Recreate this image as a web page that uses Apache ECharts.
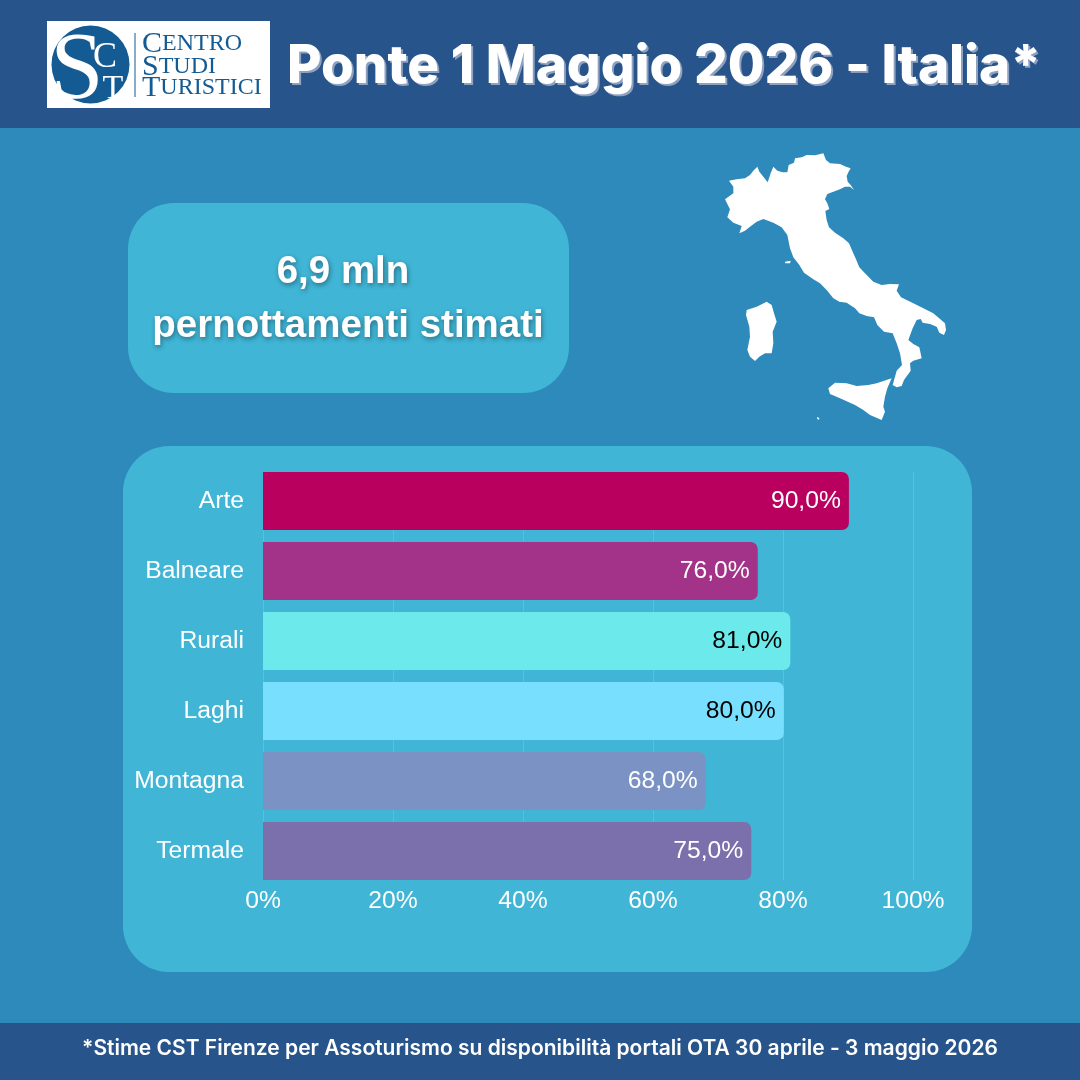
<!DOCTYPE html>
<html>
<head>
<meta charset="utf-8">
<title>Ponte 1 Maggio 2026 - Italia</title>
<style>
  html, body { margin: 0; padding: 0; background: #2d8abb; }
  #main { width: 1080px; height: 1080px; }
</style>
<script src="https://cdn.jsdelivr.net/npm/echarts@6/dist/echarts.min.js"></script>
</head>
<body>
<div id="main"></div>
<script>
// dati
const categories = ['Arte', 'Balneare', 'Rurali', 'Laghi', 'Montagna', 'Termale'];
const values = [90, 76, 81, 80, 68, 75];
const xTicks = [0, 20, 40, 60, 80, 100];

// colori per barra
const barColors = ['#ba005e', '#a33389', '#6ce9ea', '#78dfff', '#7b93c4', '#7b70ac'];
const labelColors = ['#fff', '#fff', '#000', '#000', '#fff', '#fff'];

const titleText = 'Ponte 1 Maggio 2026 - Italia*';
const footerText = '*Stime CST Firenze per Assoturismo su disponibilità portali OTA 30 aprile - 3 maggio 2026';

// sagoma dell'Italia (solo decorazione), in px del ritaglio 3x
const mainland = [[87,122],[110,118],[135,115],[150,105],[160,92],[172,80],[178,95],[190,110],[203,127],[212,100],[220,80],[232,92],[248,97],[262,97],[266,75],[282,68],[285,55],[305,52],[320,45],[345,46],[370,40],[378,60],[390,70],[420,72],[438,80],[452,85],[445,97],[440,108],[443,125],[452,135],[462,150],[450,140],[435,140],[420,148],[400,155],[382,162],[375,178],[382,190],[388,207],[376,213],[380,240],[387,262],[405,278],[430,295],[447,310],[458,335],[468,358],[478,382],[495,400],[520,425],[545,435],[570,432],[597,433],[590,452],[603,472],[640,490],[670,505],[700,520],[735,550],[738,570],[732,585],[718,578],[710,560],[690,552],[668,548],[662,537],[650,540],[638,565],[625,600],[640,612],[658,622],[665,655],[640,662],[630,670],[632,692],[612,720],[605,738],[590,742],[578,735],[590,692],[606,675],[600,640],[590,610],[578,580],[552,575],[532,555],[522,532],[500,528],[478,520],[465,505],[440,488],[418,485],[400,475],[380,450],[360,430],[340,418],[312,398],[298,375],[280,352],[270,325],[262,285],[245,262],[220,248],[190,237],[170,245],[150,260],[135,272],[118,280],[125,258],[100,248],[82,232],[90,208],[75,178],[100,160],[100,140]];
const sardinia = [[140,510],[170,500],[200,485],[215,495],[222,520],[230,545],[218,575],[220,610],[215,640],[195,640],[178,650],[165,663],[150,650],[142,630],[150,590],[148,560],[138,525]];
const sicily = [[385,745],[405,728],[440,730],[470,738],[505,735],[530,730],[575,715],[562,745],[555,770],[550,800],[555,815],[545,840],[510,825],[490,810],[465,795],[420,775],[390,762]];
const elba = [[255,365],[272,362],[270,370],[256,370]];
const pantelleria = [[351,831],[358,834],[357,839],[352,837]];

function land(points) {
    return {
        type: 'polygon', z: -5, silent: true,
        shape: { points: points.map(p => [700 + p[0] / 3, 140 + p[1] / 3]) },
        style: { fill: '#fff' }
    };
}

function box(x, y, w, h, r, fill) {
    return { type: 'rect', z: -10, silent: true, shape: { x, y, width: w, height: h, r }, style: { fill } };
}

function label(x, y, text, font, fill, align, extra) {
    return {
        type: 'text', z: -4, silent: true, x, y,
        style: Object.assign({ text, font, fill, align: align || 'left', verticalAlign: 'middle' }, extra || {})
    };
}

const LOGO_BLUE = '#145b93';
const logoSerif = '"Liberation Serif"';

function logoWord(x, y, first, rest) {
    return {
        type: 'text', z: -4, silent: true, x, y,
        style: {
            text: '{a|' + first + '}{b|' + rest + '}',
            verticalAlign: 'middle',
            rich: {
                a: { font: '30px ' + logoSerif, fill: LOGO_BLUE },
                b: { font: '24px ' + logoSerif, fill: LOGO_BLUE }
            }
        }
    };
}

const softShadow = { textShadowColor: 'rgba(0,0,0,0.4)', textShadowOffsetX: 1, textShadowOffsetY: 2, textShadowBlur: 5 };

const chart = echarts.init(document.getElementById('main'), null, { renderer: 'canvas' });

const decor = [
    box(0, 0, 1080, 1080, 0, '#2d8abb'),
    box(0, 0, 1080, 128, 0, '#27548a'),
    box(0, 1023, 1080, 57, 0, '#27548a'),
    box(128, 203, 441, 190, 46, '#40b5d6'),
    box(123, 446, 849, 526, 46, '#40b5d6'),

    // logo
    box(47, 21, 223, 87, 0, '#fff'),
    { type: 'circle', z: -5, silent: true, shape: { cx: 90.5, cy: 64.5, r: 39 }, style: { fill: LOGO_BLUE } },
    label(77, 73, 'S', '96px ' + logoSerif, '#fff', 'center'),
    label(105, 58, 'C', '36px ' + logoSerif, '#fff', 'center'),
    label(113, 89, 'T', '34px ' + logoSerif, '#fff', 'center'),
    box(97, 74.5, 31, 1.5, 0, '#fff'),
    box(134.5, 33, 1, 64, 0, LOGO_BLUE),
    logoWord(142, 44, 'C', 'ENTRO'),
    logoWord(142, 67, 'S', 'TUDI'),
    logoWord(142, 88, 'T', 'URISTICI'),

    // titolo e piede
    label(287, 67, titleText, '800 53px Inter', '#fff', 'left', {
        textShadowColor: '#8ea1bf', textShadowOffsetX: 2, textShadowOffsetY: 2, textShadowBlur: 0.5
    }),
    label(540, 1049, footerText, '600 21px Inter', '#fff', 'center'),

    // riquadro pernottamenti
    label(343, 272, '6,9 mln', '700 38.5px "Liberation Sans"', '#fff', 'center', softShadow),
    label(348, 326, 'pernottamenti stimati', '700 38.5px "Liberation Sans"', '#fff', 'center', softShadow),

    // mappa
    land(mainland), land(sardinia), land(sicily), land(elba), land(pantelleria)
];

chart.setOption({
    animation: false,
    backgroundColor: '#2d8abb',
    textStyle: { fontFamily: '"Liberation Sans"' },
    graphic: { elements: decor },
    // griglia 0: solo asse e linee verticali (472-880), griglia 1: barre (passo 70px)
    grid: [
        { left: 263, width: 650, top: 472, height: 408 },
        { left: 263, width: 651, top: 466, height: 420 }
    ],
    xAxis: [
        {
            type: 'value', gridIndex: 0, min: xTicks[0], max: xTicks[xTicks.length - 1], interval: 20,
            axisLine: { show: false }, axisTick: { show: false },
            axisLabel: { color: '#fff', fontSize: 24.7, margin: 9, formatter: '{value}%' },
            splitLine: { show: true, lineStyle: { color: 'rgba(255,255,255,0.14)', width: 1 } }
        },
        {
            type: 'value', gridIndex: 1, min: xTicks[0], max: xTicks[xTicks.length - 1],
            axisLine: { show: false }, axisTick: { show: false }, axisLabel: { show: false }, splitLine: { show: false }
        }
    ],
    yAxis: [
        { type: 'category', gridIndex: 0, data: categories, show: false, inverse: true },
        {
            type: 'category', gridIndex: 1, data: categories, inverse: true,
            axisLine: { show: false }, axisTick: { show: false },
            axisLabel: { color: '#fff', fontSize: 24.7, margin: 19 }
        }
    ],
    series: [{
        type: 'bar',
        xAxisIndex: 1,
        yAxisIndex: 1,
        barWidth: 58,
        data: values.map((v, i) => ({
            value: v,
            itemStyle: { color: barColors[i], borderRadius: [0, 7, 7, 0] },
            label: { color: labelColors[i] }
        })),
        label: {
            show: true,
            position: 'insideRight',
            distance: 8,
            fontSize: 24.7,
            formatter: p => p.value.toFixed(1).replace('.', ',') + '%'
        }
    }]
});
</script>
</body>
</html>
